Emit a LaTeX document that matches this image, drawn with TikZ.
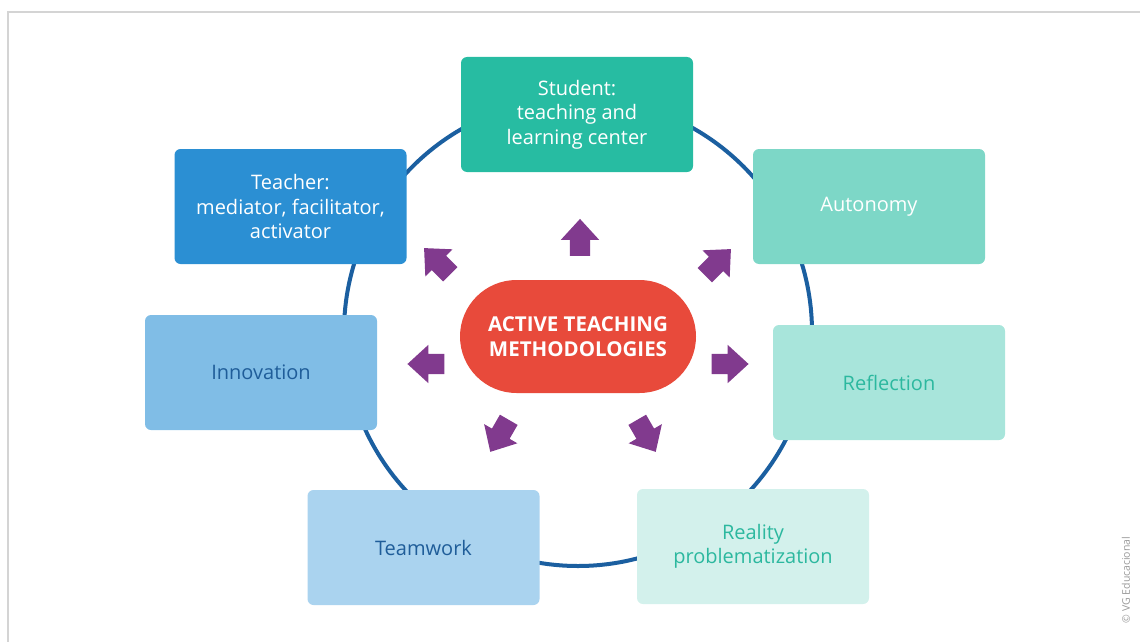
\documentclass[tikz,border=0pt]{standalone}
\usepackage{fontspec}
\setmainfont{Open Sans}
\usetikzlibrary{shapes.arrows,shapes.misc}
\definecolor{ringblue}{HTML}{1B5FA0}
\definecolor{cStudent}{HTML}{27BCA2}
\definecolor{cTeacher}{HTML}{2B8FD3}
\definecolor{cAutonomy}{HTML}{7DD7C7}
\definecolor{cInnovation}{HTML}{80BDE6}
\definecolor{cReflection}{HTML}{A8E5DB}
\definecolor{cTeamwork}{HTML}{AAD3EF}
\definecolor{cReality}{HTML}{D3F1EC}
\definecolor{txtBlue}{HTML}{1F5D99}
\definecolor{txtTeal}{HTML}{2CB89F}
\definecolor{coreRed}{HTML}{E84A3B}
\definecolor{arrowPurple}{HTML}{813A8E}
\definecolor{frameGray}{HTML}{D4D4D4}
\tikzset{
  topicbox/.style={rectangle, rounded corners=6pt, minimum width=232pt,
    minimum height=115pt, align=center, inner sep=4pt,
    font=\fontsize{20}{24.5}\selectfont},
  corebox/.style={rounded rectangle, fill=coreRed, minimum width=240pt,
    minimum height=113pt, align=center, text=white, inner xsep=2pt,
    font=\fontsize{20.5}{25}\selectfont\bfseries},
  spoke/.style={single arrow, fill=arrowPurple, draw=none,
    minimum height=37pt, minimum width=38pt, inner xsep=0pt, inner ysep=10pt,
    single arrow head extend=9pt, single arrow tip angle=85},
}
\begin{document}
\begin{tikzpicture}[x=1pt, y=-1pt]
  \useasboundingbox (0,0) rectangle (1140,642);
  % thin frame along the top and left edges
  \draw[frameGray, line width=1.5pt] (8,642) -- (8,12) -- (1140,12);
  % ring linking the topics
  \draw[ringblue, line width=4pt] (578,332) circle[radius=234pt];
  % topics around the ring
  \node[topicbox, fill=cStudent, text=white] (student) at (577,114.5)
    {Student:\\teaching and\\learning center};
  \node[topicbox, fill=cTeacher, text=white] (teacher) at (290.5,206.5)
    {Teacher:\\mediator, facilitator,\\activator};
  \node[topicbox, fill=cAutonomy, text=white, text depth=5pt] (autonomy)
    at (869,206.5) {Autonomy};
  \node[topicbox, fill=cInnovation, text=txtBlue] (innovation) at (261,372.5)
    {Innovation};
  \node[topicbox, fill=cReflection, text=txtTeal] (reflection) at (889,382.5)
    {Reflection};
  \node[topicbox, fill=cTeamwork, text=txtBlue] (teamwork) at (423.5,547.5)
    {Teamwork};
  \node[topicbox, fill=cReality, text=txtTeal] (reality) at (753,546.5)
    {Reality\\problematization};
  % central concept
  \node[corebox] (core) at (578,336.5) {ACTIVE TEACHING\\METHODOLOGIES};
  % arrows radiating from the centre
  \node[spoke, rotate=90]  (aUp)        at (580,243) {};
  \node[spoke, rotate=45]  (aUpRight)   at (713.9,266.1) {};
  \node[spoke, rotate=0]   (aRight)     at (724.5,364) {};
  \node[spoke, rotate=180] (aLeft)      at (431.5,364) {};
  \node[spoke, rotate=135] (aUpLeft)    at (441.1,265.1) {};
  \node[spoke, rotate=240] (aDownLeft)  at (502.3,431) {};
  \node[spoke, rotate=300] (aDownRight) at (643.7,431) {};
  % credit line
  \node[rotate=90, text=gray!80, font=\fontsize{10.5}{12}\selectfont] (credit)
    at (1126,580) {© VG Educacional};
\end{tikzpicture}
\end{document}
